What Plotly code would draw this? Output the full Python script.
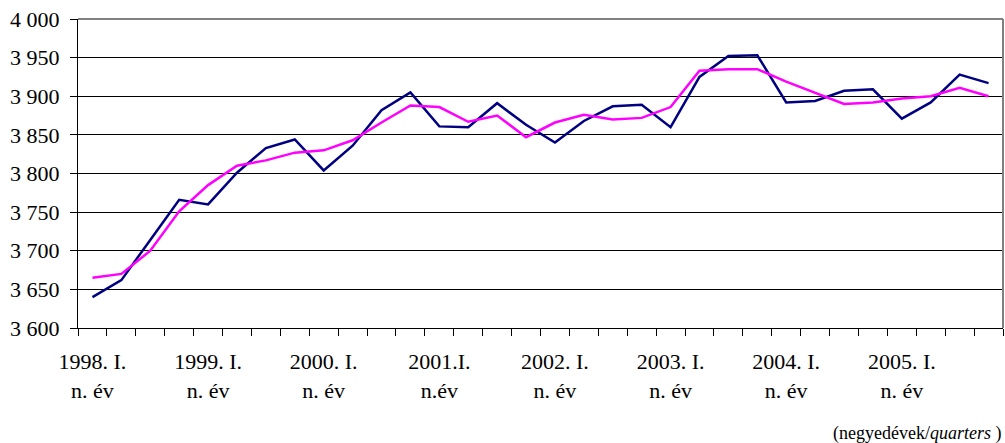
import plotly.graph_objects as go

quarters = list(range(32))
tick_pos = [0, 4, 8, 12, 16, 20, 24, 28]
tick_labels = ["1998. I.<br>n. év", "1999. I.<br>n. év", "2000. I.<br>n. év",
               "2001.I.<br>n.év", "2002. I.<br>n. év", "2003. I.<br>n. év",
               "2004. I.<br>n. év", "2005. I.<br>n. év"]

series_navy = [3640, 3662, 3714, 3766, 3760, 3801, 3833, 3844,
               3804, 3836, 3882, 3905, 3861, 3860, 3891, 3863,
               3840, 3868, 3887, 3889, 3860, 3925, 3952, 3953,
               3892, 3894, 3907, 3909, 3871, 3892, 3928, 3917]
series_magenta = [3665, 3670, 3700, 3751, 3785, 3810, 3817, 3827,
                  3830, 3843, 3866, 3888, 3886, 3867, 3875, 3847,
                  3866, 3876, 3870, 3872, 3886, 3933, 3935, 3935,
                  3919, 3904, 3890, 3892, 3897, 3900, 3911, 3900]

FONT = "Liberation Serif, Times New Roman, serif"

fig = go.Figure()
fig.add_trace(go.Scatter(x=quarters, y=series_navy, mode="lines",
                         line=dict(color="#000080", width=2.5), showlegend=False))
fig.add_trace(go.Scatter(x=quarters, y=series_magenta, mode="lines",
                         line=dict(color="#FF00FF", width=2.5), showlegend=False))

fig.update_layout(
    width=1005, height=443,
    margin=dict(l=78, r=2, t=19, b=115),
    paper_bgcolor="white", plot_bgcolor="white",
    separators=". ",
    font=dict(family=FONT, size=22, color="black"),
    xaxis=dict(range=[-0.5, 31.5], tickmode="array", tickvals=tick_pos,
               ticktext=tick_labels, ticks="", showgrid=False, zeroline=False,
               showline=True, linecolor="black", linewidth=1,
               ticklabelstandoff=14, tickfont=dict(family=FONT, size=22),
               minor=dict(tickmode="linear", tick0=-0.5, dtick=1, ticks="outside",
                          ticklen=7, tickcolor="black", tickwidth=1, showgrid=False)),
    yaxis=dict(range=[3600, 4000], dtick=50, tick0=3600, tickformat=",d",
               ticks="outside", ticklen=7, tickcolor="black",
               showgrid=True, gridcolor="black", gridwidth=1, zeroline=False,
               showline=True, linecolor="black", linewidth=1,
               ticklabelstandoff=6, tickfont=dict(family=FONT, size=22)),
    shapes=[
        dict(type="line", xref="paper", yref="paper", x0=0, x1=1, y0=1, y1=1,
             line=dict(color="#808080", width=2)),
        dict(type="line", xref="paper", yref="paper", x0=1, x1=1, y0=0, y1=1,
             line=dict(color="#808080", width=2)),
    ],
    annotations=[
        dict(text="(negyedévek/<i>quarters</i> )", xref="paper", yref="paper",
             x=1, y=0, xanchor="right", yanchor="top", yshift=-93,
             showarrow=False, font=dict(family=FONT, size=18, color="black")),
    ],
)

fig.write_html("out.html", config={"displayModeBar": False},
               post_script="document.body.style.margin='0px';document.body.style.overflow='hidden';")
